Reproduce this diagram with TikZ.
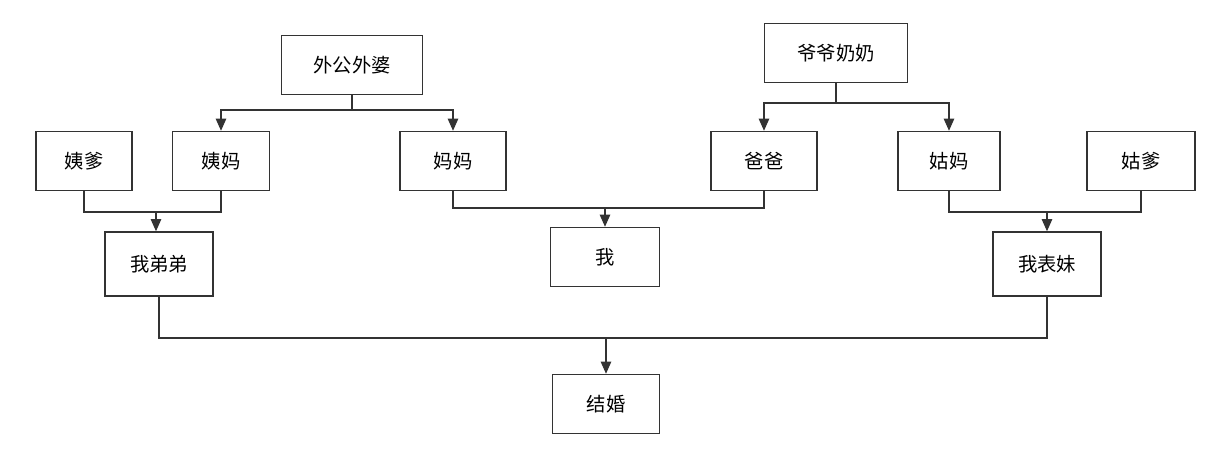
\documentclass[tikz,border=0pt]{standalone}
\usepackage{fontspec}
\setmainfont{Noto Sans CJK SC}
\usetikzlibrary{arrows.meta}
\begin{document}
\begin{tikzpicture}[x=0.02cm,y=-0.02cm,
 box/.style={draw=black!80,line width=0.8pt,minimum width=2.12cm,minimum height=1.18cm,inner sep=0pt,font=\fontsize{11}{13}\selectfont},
 conn/.style={draw=black!80,line width=0.8pt},
 arr/.style={conn,-{Triangle[length=7pt,width=6pt]}}]
\useasboundingbox (0,0) rectangle (1225,462);
\node[box,minimum width=2.82cm] (wg) at (352,65) {外公外婆};
\node[box,minimum width=2.86cm] (yy) at (836,53) {爷爷奶奶};
\node[box,minimum width=1.92cm] (yd) at (84,161) {姨爹};
\node[box,minimum width=1.94cm] (ym) at (221,161) {姨妈};
\node[box] (mm) at (453,161) {妈妈};
\node[box] (bb) at (764,161) {爸爸};
\node[box,minimum width=2.04cm] (gm) at (949,161) {姑妈};
\node[box,minimum width=2.16cm] (gd) at (1141,161) {姑爹};
\node[box,minimum height=1.28cm,minimum width=2.16cm] (wdd) at (159,264) {我弟弟};
\node[box,minimum width=2.18cm] (w) at (605,257) {我};
\node[box,minimum height=1.28cm,minimum width=2.16cm] (wbm) at (1047,264) {我表妹};
\node[box,minimum width=2.14cm] (jh) at (606,404) {结婚};
\coordinate (j1) at (352,110);
\coordinate (j2) at (836,103);
\coordinate (j3) at (156,212);
\coordinate (j4) at (605,208);
\coordinate (j5) at (1047,212);
\coordinate (j6) at (606,338);
\draw[conn] (wg.south) -- (j1);
\draw[arr] (j1) -| (ym.north);
\draw[arr] (j1) -| (mm.north);
\draw[conn] (yy.south) -- (j2);
\draw[arr] (j2) -| (bb.north);
\draw[arr] (j2) -| (gm.north);
\draw[conn] (yd.south) |- (j3) -| (ym.south);
\draw[arr] (j3) -- (j3 |- wdd.north);
\draw[conn] (mm.south) |- (j4) -| (bb.south);
\draw[arr] (j4) -- (w.north);
\draw[conn] (gm.south) |- (j5) -| (gd.south);
\draw[arr] (j5) -- (wbm.north);
\draw[conn] (wdd.south) |- (j6) -| (wbm.south);
\draw[arr] (j6) -- (jh.north);
\end{tikzpicture}
\end{document}
